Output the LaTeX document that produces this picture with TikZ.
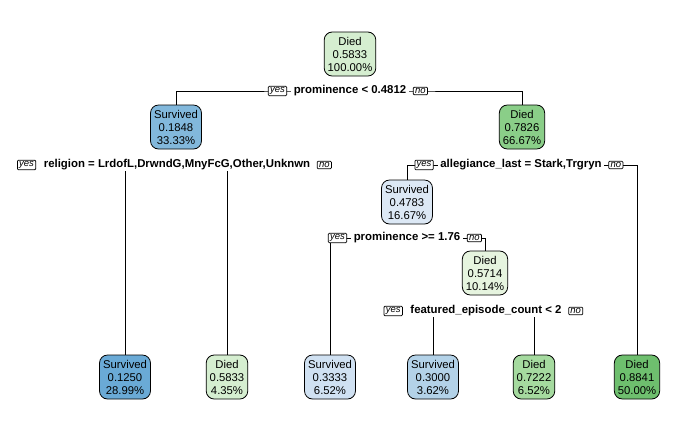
\documentclass[tikz,border=0pt]{standalone}
\usepackage{fontspec}
\setmainfont{Liberation Sans}
\pgfdeclarelayer{background}
\pgfsetlayers{background,main}
\definecolor{dA}{HTML}{D5EED0}
\definecolor{dB}{HTML}{8ACE88}
\definecolor{dC}{HTML}{E6F4DF}
\definecolor{dD}{HTML}{A5DA9F}
\definecolor{dE}{HTML}{6EBF6E}
\definecolor{sA}{HTML}{82B8DC}
\definecolor{sB}{HTML}{DCE8F5}
\definecolor{sC}{HTML}{6AAAD6}
\definecolor{sD}{HTML}{D0E1F2}
\definecolor{sE}{HTML}{B3D2E8}
\begin{document}
\begin{tikzpicture}[x=1pt,y=-1pt,
  tnode/.style={draw, line width=0.8pt, rounded corners=8pt, align=center,
    font=\fontsize{11.3}{13}\selectfont, inner xsep=3.5pt, inner ysep=2pt, minimum height=44pt},
  split/.style={fill=white, font=\bfseries\fontsize{11.4}{13}\selectfont, inner xsep=2.5pt, inner ysep=1pt},
  yn/.style={draw, fill=white, font=\itshape\fontsize{9.5}{11}\selectfont, inner xsep=1.8pt, inner ysep=1.2pt, rounded corners=1pt, line width=0.75pt},
  link/.style={line width=0.8pt}]
\useasboundingbox (0,0) rectangle (700,432);
% internal nodes
\node[tnode, fill=dA] (n1) at (350,54) {Died\\0.5833\\100.00\%};
\node[tnode, fill=sA] (n2) at (176,127) {Survived\\0.1848\\33.33\%};
\node[tnode, fill=dB] (n3) at (522,127) {Died\\0.7826\\66.67\%};
\node[tnode, fill=sB] (n6) at (407,202) {Survived\\0.4783\\16.67\%};
\node[tnode, fill=dC] (n7) at (485,273) {Died\\0.5714\\10.14\%};
% leaves
\node[tnode, fill=sC] (l1) at (125,377) {Survived\\0.1250\\28.99\%};
\node[tnode, fill=dA] (l2) at (227,377) {Died\\0.5833\\4.35\%};
\node[tnode, fill=sD] (l3) at (330,377) {Survived\\0.3333\\6.52\%};
\node[tnode, fill=sE] (l4) at (433,377) {Survived\\0.3000\\3.62\%};
\node[tnode, fill=dD] (l5) at (534,377) {Died\\0.7222\\6.52\%};
\node[tnode, fill=dE] (l6) at (637,377) {Died\\0.8841\\50.00\%};
% split labels
\node[split] (s1) at (350,91) {prominence < 0.4812};
\node[yn, anchor=east] (y1) at ([xshift=-4pt]s1.west) {yes};
\node[yn, anchor=west] (o1) at ([xshift=4pt]s1.east) {no};
\node[split] (s2) at (177,165) {religion = LrdofL,DrwndG,MnyFcG,Other,Unknwn};
\node[yn, anchor=east] (y2) at ([xshift=-5pt]s2.west) {yes};
\node[yn, anchor=west] (o2) at ([xshift=4pt]s2.east) {no};
\node[split] (s3) at (521,165) {allegiance\_last = Stark,Trgryn};
\node[yn, anchor=east] (y3) at ([xshift=-4pt]s3.west) {yes};
\node[yn, anchor=west] (o3) at ([xshift=4pt]s3.east) {no};
\node[split] (s4) at (407,238) {prominence >= 1.76};
\node[yn, anchor=east] (y4) at ([xshift=-4pt]s4.west) {yes};
\node[yn, anchor=west] (o4) at ([xshift=4pt]s4.east) {no};
\node[split] (s5) at (486,311) {featured\_episode\_count < 2};
\node[yn, anchor=east] (y5) at ([xshift=-5pt]s5.west) {yes};
\node[yn, anchor=west] (o5) at ([xshift=4pt]s5.east) {no};
% connectors
\begin{pgfonlayer}{background}
\draw[link] (n2.north) |- (s1.center) -| (n3.north);
\draw[link] (l1.north) |- (s2.center) -| (l2.north);
\draw[link] (n6.north) |- (s3.center) -| (l6.north);
\draw[link] (l3.north) |- (s4.center) -| (n7.north);
\draw[link] (l4.north) |- (s5.center) -| (l5.north);
\end{pgfonlayer}
\end{tikzpicture}
\end{document}
